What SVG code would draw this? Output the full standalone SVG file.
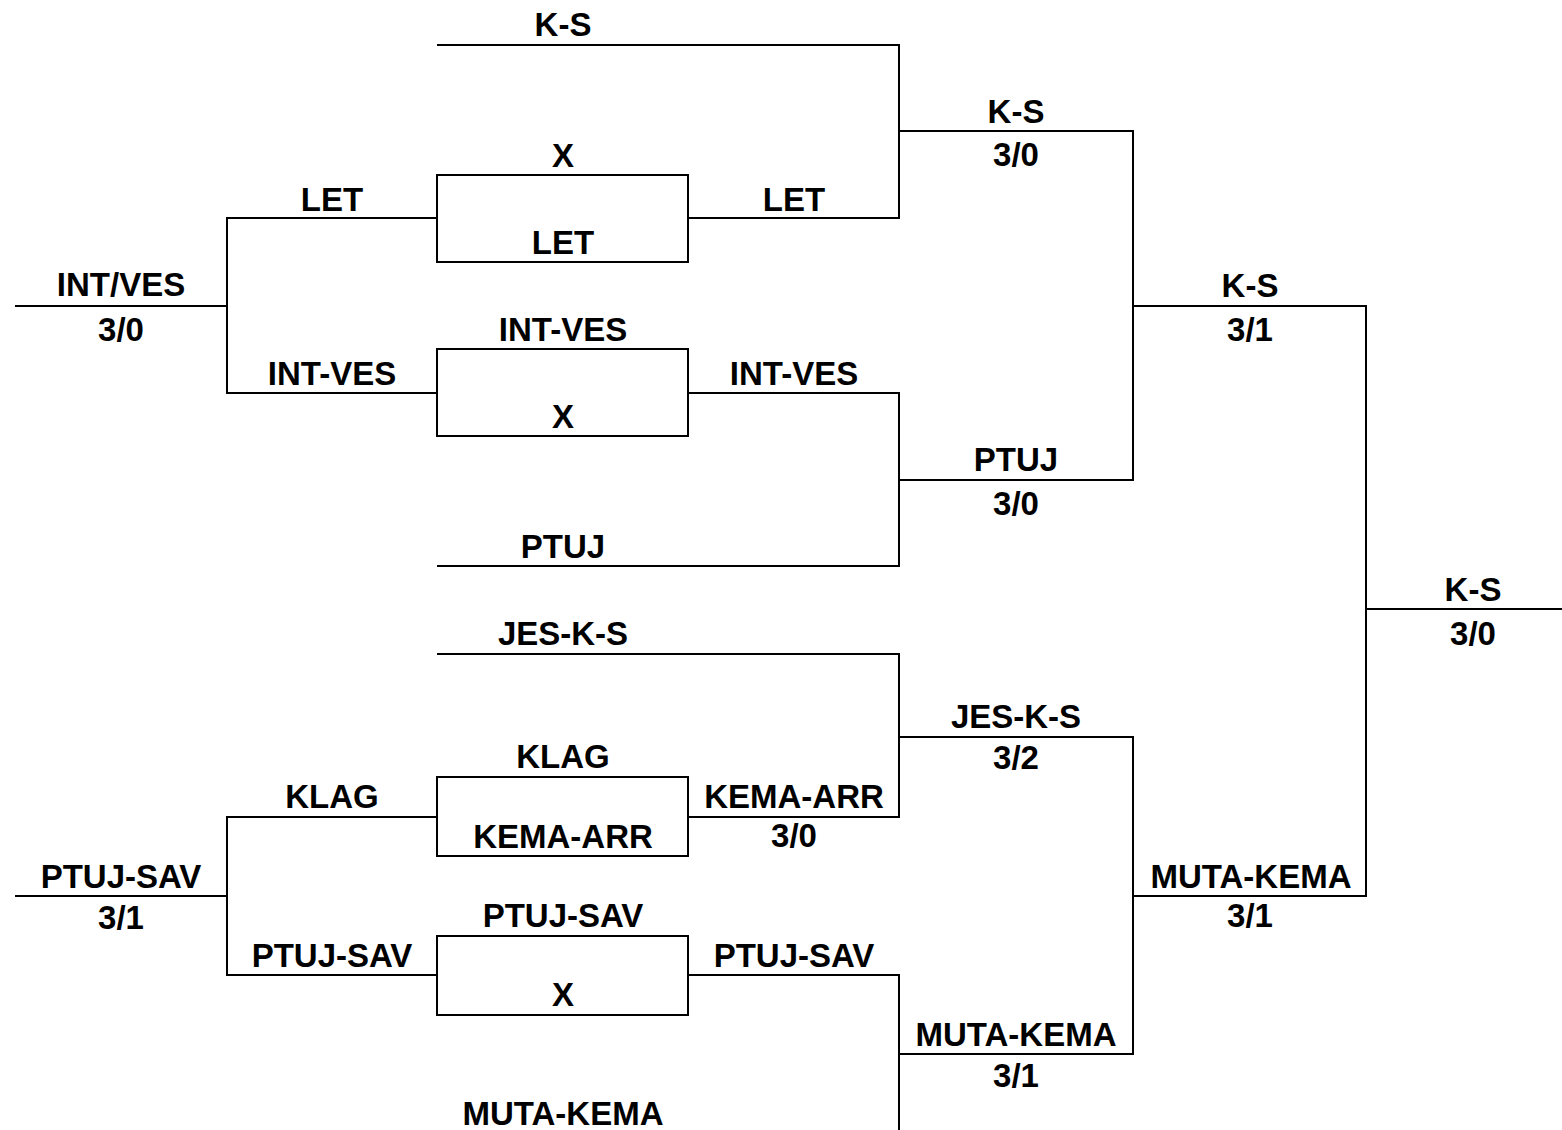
<svg xmlns="http://www.w3.org/2000/svg" width="1562" height="1130" viewBox="0 0 1562 1130">
<style>
text{font-family:"Liberation Sans",Arial,sans-serif;font-weight:bold;font-size:33px;fill:#000;text-anchor:middle}
.ln{fill:none;stroke:#000;stroke-width:2}
</style>
<rect width="1562" height="1130" fill="#fff"/>
<g id="connectors" class="ln">
<path d="M437,45 H899 V218 H688"/>
<path d="M899,131 H1133 V480 H899"/>
<path d="M688,393 H899 V566 H437"/>
<path d="M15,306 H227"/>
<path d="M437,218 H227 V393 H437"/>
<path d="M1133,306 H1366 V896 H1133"/>
<path d="M1366,609 H1562"/>
<path d="M437,654 H899 V817 H688"/>
<path d="M899,737 H1133 V1054 H899"/>
<path d="M688,975 H899 V1130"/>
<path d="M15,896 H227"/>
<path d="M437,817 H227 V975 H437"/>
</g>
<g id="box-let" class="ln"><rect x="437" y="175" width="251" height="87"/></g>
<g id="box-intves" class="ln"><rect x="437" y="349" width="251" height="87"/></g>
<g id="box-klag" class="ln"><rect x="437" y="777" width="251" height="79"/></g>
<g id="box-ptujsav" class="ln"><rect x="437" y="936" width="251" height="79"/></g>
<g id="labels-top">
<text x="563" y="36">K-S</text>
<text x="563" y="167">X</text>
<text x="563" y="254">LET</text>
<text x="332" y="211">LET</text>
<text x="794" y="211">LET</text>
<text x="121" y="296">INT/VES</text>
<text x="121" y="341">3/0</text>
<text x="563" y="341">INT-VES</text>
<text x="563" y="428">X</text>
<text x="332" y="385">INT-VES</text>
<text x="794" y="385">INT-VES</text>
<text x="563" y="558">PTUJ</text>
<text x="1016" y="123">K-S</text>
<text x="1016" y="166">3/0</text>
<text x="1250" y="297">K-S</text>
<text x="1250" y="341">3/1</text>
<text x="1016" y="471">PTUJ</text>
<text x="1016" y="515">3/0</text>
<text x="1473" y="601">K-S</text>
<text x="1473" y="645">3/0</text>
</g>
<g id="labels-bottom">
<text x="563" y="645">JES-K-S</text>
<text x="563" y="768">KLAG</text>
<text x="563" y="848">KEMA-ARR</text>
<text x="332" y="808">KLAG</text>
<text x="794" y="808">KEMA-ARR</text>
<text x="794" y="847">3/0</text>
<text x="121" y="888">PTUJ-SAV</text>
<text x="121" y="929">3/1</text>
<text x="332" y="967">PTUJ-SAV</text>
<text x="563" y="927">PTUJ-SAV</text>
<text x="563" y="1006">X</text>
<text x="794" y="967">PTUJ-SAV</text>
<text x="1016" y="728">JES-K-S</text>
<text x="1016" y="769">3/2</text>
<text x="1016" y="1046">MUTA-KEMA</text>
<text x="1016" y="1087">3/1</text>
<text x="1251" y="888">MUTA-KEMA</text>
<text x="1250" y="927">3/1</text>
<text x="563" y="1125">MUTA-KEMA</text>
</g>
</svg>
